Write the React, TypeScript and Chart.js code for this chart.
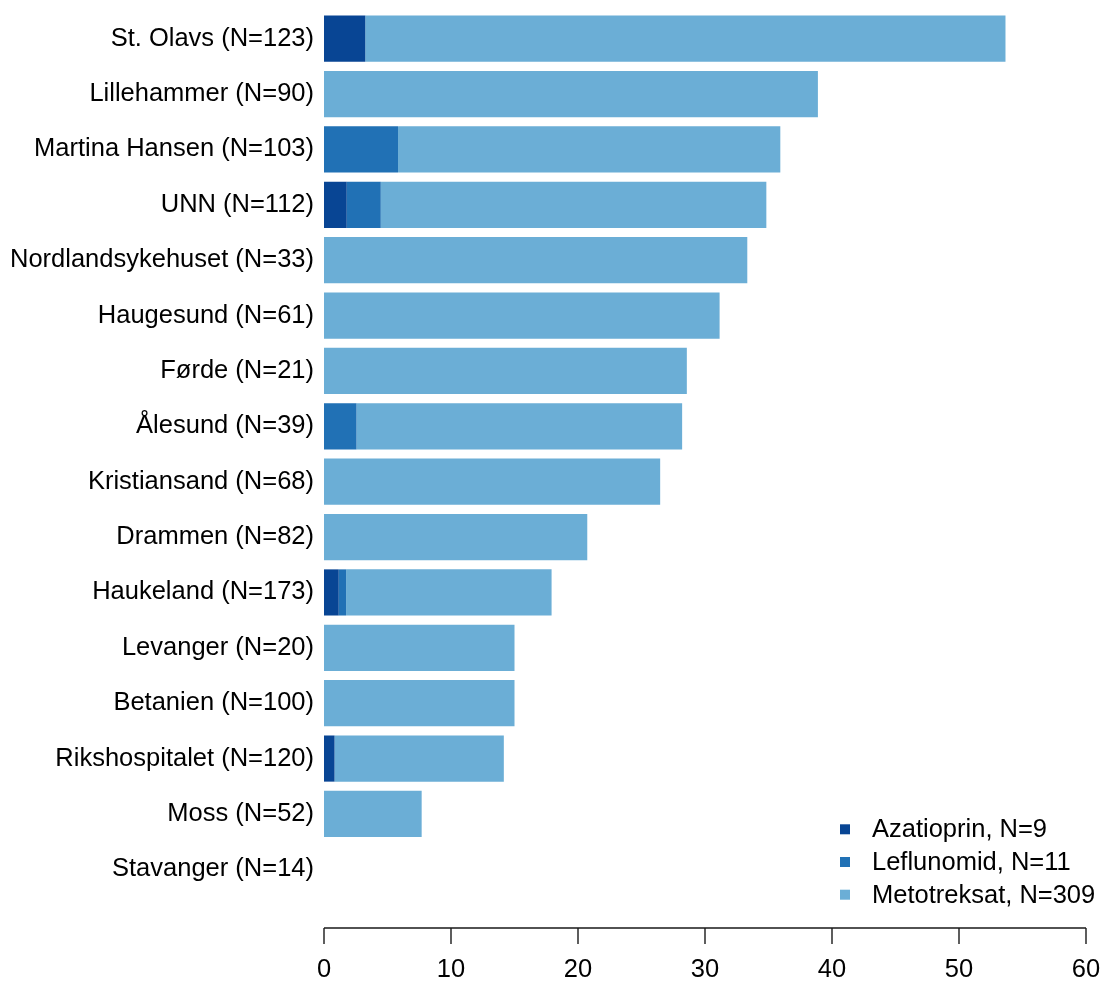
import React, { useEffect, useRef } from "react";
import { Chart, registerables } from "chart.js";

Chart.register(...registerables);

const categories = [
  "St. Olavs (N=123)",
  "Lillehammer (N=90)",
  "Martina Hansen (N=103)",
  "UNN (N=112)",
  "Nordlandsykehuset (N=33)",
  "Haugesund (N=61)",
  "Førde (N=21)",
  "Ålesund (N=39)",
  "Kristiansand (N=68)",
  "Drammen (N=82)",
  "Haukeland (N=173)",
  "Levanger (N=20)",
  "Betanien (N=100)",
  "Rikshospitalet (N=120)",
  "Moss (N=52)",
  "Stavanger (N=14)",
];

// percentage of patients per hospital
const azatioprin = [3.25, 0, 0, 1.79, 0, 0, 0, 0, 0, 0, 1.16, 0, 0, 0.83, 0, 0];
const leflunomid = [0, 0, 5.83, 2.68, 0, 0, 0, 2.56, 0, 0, 0.58, 0, 0, 0, 0, 0];
const metotreksat = [50.41, 38.89, 30.1, 30.36, 33.33, 31.15, 28.57, 25.64, 26.47, 20.73, 16.18, 15, 15, 13.33, 7.69, 0];

const seriesLabels = ["Azatioprin, N=9", "Leflunomid, N=11", "Metotreksat, N=309"];
const seriesColors = ["#084594", "#2171B5", "#6BAED6"];
const xTicks = [0, 10, 20, 30, 40, 50, 60];

const FONT = "'Liberation Sans', Arial, Helvetica, sans-serif";
const FSIZE = 25.5;

const axisPlugin = {
  id: "rAxis",
  afterDraw(chart: any) {
    const ctx = chart.ctx;
    const xs = chart.scales.x;
    const y0 = chart.chartArea.bottom + 31;
    ctx.save();
    ctx.strokeStyle = "#1a1a1a";
    ctx.lineWidth = 1.4;
    ctx.beginPath();
    ctx.moveTo(xs.getPixelForValue(xTicks[0]), y0);
    ctx.lineTo(xs.getPixelForValue(xTicks[xTicks.length - 1]), y0);
    xs.ticks.forEach((t: any) => {
      const px = xs.getPixelForValue(t.value);
      ctx.moveTo(px, y0);
      ctx.lineTo(px, y0 + 16);
    });
    ctx.stroke();
    ctx.restore();
  },
};

const legendPlugin = {
  id: "rLegend",
  afterDraw(chart: any) {
    const ctx = chart.ctx;
    const ca = chart.chartArea;
    ctx.save();
    ctx.font = `${FSIZE}px ${FONT}`;
    ctx.textBaseline = "middle";
    ctx.textAlign = "left";
    chart.data.datasets.forEach((ds: any, i: number) => {
      const y = ca.bottom - 67.7 + i * 32.7;
      const sx = ca.right - 241;
      ctx.fillStyle = ds.backgroundColor;
      ctx.fillRect(sx - 5, y - 5, 10, 10);
      ctx.fillStyle = "#000";
      ctx.fillText(ds.label, ca.right - 214, y + 1);
    });
    ctx.restore();
  },
};

export default function App() {
  const ref = useRef<HTMLCanvasElement | null>(null);

  useEffect(() => {
    if (!ref.current) return;
    const chart = new Chart(ref.current, {
      type: "bar",
      data: {
        labels: categories,
        datasets: [azatioprin, leflunomid, metotreksat].map((d, i) => ({
          label: seriesLabels[i],
          data: d,
          backgroundColor: seriesColors[i],
          borderWidth: 0,
          categoryPercentage: 1 / 1.2,
          barPercentage: 1,
        })),
      },
      options: {
        indexAxis: "y",
        animation: false,
        responsive: false,
        maintainAspectRatio: false,
        layout: { padding: { top: 11, right: 18, bottom: 0, left: 0 } },
        plugins: {
          legend: { display: false },
          tooltip: { enabled: false },
        },
        scales: {
          x: {
            stacked: true,
            min: 0,
            max: 60,
            border: { display: false },
            grid: { display: false, drawTicks: false },
            afterBuildTicks: (scale: any) => {
              scale.ticks = xTicks.map((v) => ({ value: v }));
            },
            afterFit: (scale: any) => {
              scale.height = 91;
              scale.paddingLeft = 0;
              scale.paddingRight = 0;
              scale.paddingTop = 0;
              scale.paddingBottom = 0;
            },
            ticks: {
              font: { family: FONT, size: FSIZE },
              color: "#000",
              padding: 58,
              maxRotation: 0,
              autoSkip: false,
            },
          },
          y: {
            stacked: true,
            border: { display: false },
            grid: { display: false, drawTicks: false },
            afterFit: (scale: any) => {
              scale.width = 324;
              scale.paddingTop = 0;
              scale.paddingBottom = 0;
            },
            ticks: {
              font: { family: FONT, size: FSIZE },
              color: "#000",
              padding: 10,
              autoSkip: false,
            },
          },
        },
      },
      plugins: [axisPlugin, legendPlugin],
    });
    return () => chart.destroy();
  }, []);

  return (
    <div style={{ position: "fixed", left: 0, top: 0, width: 1104, height: 988, background: "#fff" }}>
      <canvas ref={ref} width={1104} height={988} style={{ width: 1104, height: 988, display: "block" }} />
    </div>
  );
}
